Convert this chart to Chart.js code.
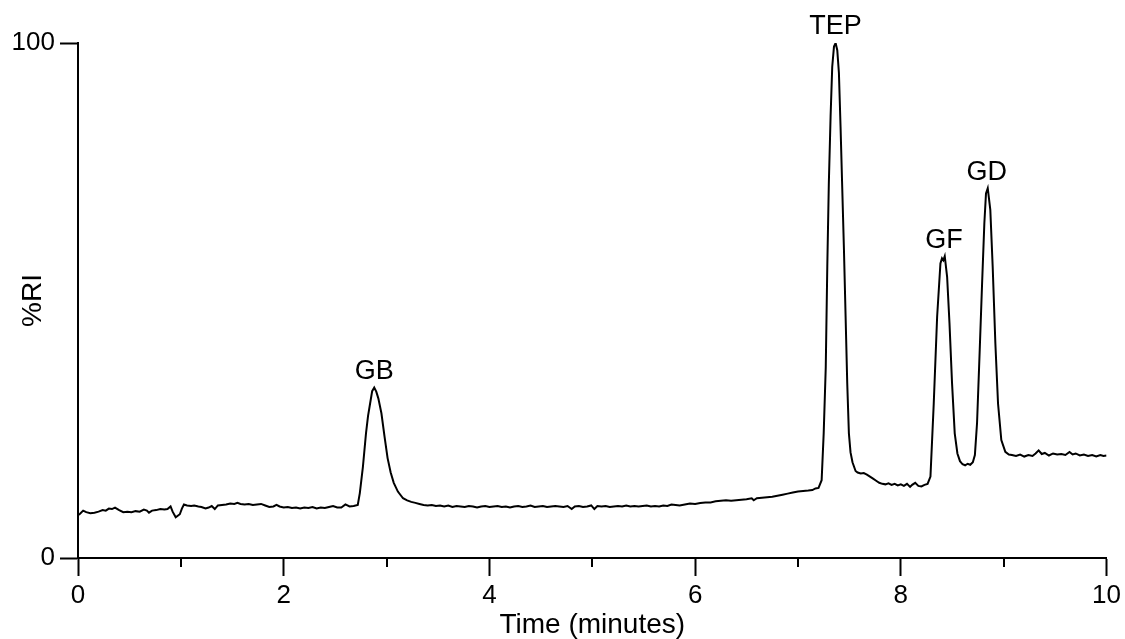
<!DOCTYPE html>
<html><head><meta charset="utf-8">
<script src="https://cdn.jsdelivr.net/npm/chart.js@4.4.0/dist/chart.umd.min.js"></script>
<style>html,body{margin:0;padding:0;background:#fff;overflow:hidden;}</style>
</head><body>
<canvas id="c" width="1125" height="639"></canvas>
<script>
// ---- data ----
const times = [
  0.00,0.02,0.05,0.08,0.12,0.16,0.20,0.24,0.27,0.30,0.33,0.36,0.40,0.44,0.48,0.52,0.56,0.60,0.64,0.67,
  0.69,0.72,0.76,0.80,0.84,0.87,0.90,0.92,0.95,0.97,0.99,1.01,1.03,1.06,1.10,1.13,1.17,1.20,1.24,1.27,
  1.30,1.33,1.36,1.40,1.44,1.48,1.52,1.55,1.58,1.62,1.66,1.70,1.74,1.78,1.82,1.86,1.90,1.93,1.96,2.00,
  2.04,2.08,2.12,2.16,2.20,2.24,2.28,2.32,2.36,2.40,2.44,2.48,2.52,2.56,2.60,2.64,2.68,2.72,
  2.74,2.77,2.80,2.82,2.84,2.86,2.88,2.90,2.92,2.95,2.98,3.01,3.04,3.07,3.11,3.16,3.20,3.24,3.28,3.32,
  3.36,3.40,3.44,3.48,3.52,3.56,3.60,3.64,3.68,3.72,3.76,3.80,3.84,3.88,3.92,3.96,4.00,4.04,4.08,4.12,
  4.16,4.20,4.24,4.28,4.32,4.36,4.40,4.44,4.48,4.52,4.56,4.60,4.64,4.68,4.72,4.76,4.80,4.83,4.87,4.91,
  4.95,4.99,5.02,5.05,5.09,5.13,5.17,5.21,5.25,5.29,5.33,5.37,5.41,5.45,5.49,5.53,5.57,5.61,5.65,5.69,
  5.73,5.77,5.81,5.85,5.90,5.95,6.00,6.05,6.10,6.15,6.20,6.25,6.30,6.35,6.40,6.45,6.50,6.55,6.57,6.60,
  6.65,6.70,6.75,6.80,6.85,6.90,6.95,7.00,7.05,7.10,7.14,7.17,7.20,
  7.23,7.25,7.27,7.285,7.30,7.317,7.333,7.35,7.366,7.382,7.398,7.414,7.43,7.447,7.463,7.479,7.495,7.511,7.53,7.56,
  7.58,7.61,7.64,7.67,7.70,7.73,7.76,7.79,7.82,7.85,7.88,7.91,7.94,7.97,8.00,8.03,8.06,8.09,8.11,8.14,8.17,8.20,8.23,8.26,
  8.288,8.32,8.353,8.385,8.40,8.413,8.427,8.45,8.473,8.498,8.524,8.55,8.575,8.60,8.625,8.65,8.675,8.70,8.72,8.741,
  8.767,8.79,8.812,8.828,8.845,8.87,8.893,8.919,8.945,8.977,9.016,9.05,9.08,
  9.12,9.16,9.20,9.24,9.28,9.31,9.34,9.37,9.40,9.44,9.48,9.52,9.56,9.60,9.64,9.67,9.70,9.74,9.78,9.82,
  9.86,9.90,9.94,9.97,10.00
];
const signal = [
  8.3,8.6,9.2,8.9,8.7,8.8,9.0,9.3,9.2,9.6,9.5,9.8,9.3,8.9,9.0,8.9,9.1,9.0,9.4,9.2,
  8.8,9.2,9.3,9.5,9.4,9.5,10.0,9.0,7.9,8.2,8.5,9.6,10.4,10.2,10.1,10.2,10.0,9.9,9.6,9.8,
  10.1,9.5,10.2,10.3,10.4,10.6,10.5,10.7,10.5,10.4,10.5,10.3,10.4,10.5,10.2,9.9,10.0,10.3,10.0,9.8,
  9.9,9.7,9.8,9.6,9.8,9.7,9.9,9.6,9.8,9.7,9.9,10.1,9.8,9.8,10.4,10.0,10.1,10.3,
  12.6,17.7,24.2,27.6,30.0,32.4,33.1,32.3,31.0,28.1,23.6,19.4,16.6,14.6,12.9,11.6,11.2,10.9,10.7,10.5,
  10.3,10.2,10.3,10.1,10.2,10.0,10.2,9.9,10.1,10.0,9.9,10.1,10.0,9.8,10.0,10.1,9.9,10.0,10.1,9.9,
  10.0,9.8,10.0,10.1,9.9,10.0,10.2,9.9,10.0,10.1,9.9,10.0,10.1,10.0,9.9,10.1,9.5,10.0,10.1,9.9,
  10.0,10.2,9.5,10.1,10.0,10.1,9.9,10.0,10.1,10.0,10.2,10.0,10.1,10.0,10.1,10.2,10.0,10.1,10.0,10.2,
  10.1,10.4,10.3,10.2,10.4,10.6,10.5,10.7,10.8,10.8,11.0,11.1,11.2,11.1,11.2,11.3,11.4,11.6,11.2,11.6,
  11.7,11.8,11.9,12.1,12.3,12.5,12.7,12.9,13.0,13.1,13.2,13.5,13.6,
  15.1,24.2,37.0,56.6,72.8,85.7,95.4,99.3,100,98.6,94.2,83.7,72.1,59.8,46.9,33.9,24.2,20.5,18.6,16.9,
  16.6,16.4,16.5,16.2,15.8,15.4,15.0,14.6,14.4,14.3,14.5,14.2,14.4,14.1,14.3,14.0,14.4,13.8,14.2,14.6,14.0,13.9,14.2,14.4,
  15.8,30.0,46.9,57.2,58.2,57.8,58.6,54.6,45.6,33.9,24.2,20.3,18.8,18.2,18.0,18.3,18.1,18.6,20.0,26.2,
  40.4,53.3,65.0,70.8,71.8,67.6,56.6,41.7,30.0,22.9,20.6,20.1,20.0,
  19.8,20.1,19.7,20.0,19.8,20.3,20.9,20.2,20.4,19.9,20.3,20.1,20.2,20.0,20.6,20.1,20.3,19.9,20.1,19.8,
  20.0,19.7,20.0,19.8,19.9
];
const xMajorTicks = [0, 2, 4, 6, 8, 10];
const xMinorTicks = [1, 3, 5, 7, 9];
const yTicks = [0, 100];
const peakNames = ['GB', 'TEP', 'GF', 'GD'];
const peakTimes = [2.88, 7.366, 8.42, 8.835];
const peakValues = [33.1, 100, 58.6, 71.8];
const xTitle = 'Time (minutes)';
const yTitle = '%RI';

// ---- drawing ----
const FONT = "'Liberation Sans', Arial, Helvetica, sans-serif";

const minorTicks = {
  id: 'minorTicks',
  afterDraw(chart) {
    const xs = chart.scales.x, ctx = chart.ctx;
    ctx.save();
    ctx.strokeStyle = '#000';
    ctx.lineWidth = 2;
    xMinorTicks.forEach(v => {
      const px = Math.round(xs.getPixelForValue(v));
      ctx.beginPath();
      ctx.moveTo(px, xs.top);
      ctx.lineTo(px, xs.top + 9);
      ctx.stroke();
    });
    ctx.restore();
  }
};

const peakLabels = {
  id: 'peakLabels',
  afterDatasetsDraw(chart) {
    const xs = chart.scales.x, ys = chart.scales.y, ctx = chart.ctx;
    ctx.save();
    ctx.fillStyle = '#000';
    ctx.font = '27px ' + FONT;
    ctx.textAlign = 'center';
    ctx.textBaseline = 'middle';
    peakNames.forEach((name, i) => {
      ctx.fillText(name, xs.getPixelForValue(peakTimes[i]), ys.getPixelForValue(peakValues[i]) - 16);
    });
    ctx.restore();
  }
};

new Chart(document.getElementById('c'), {
  type: 'line',
  data: {
    datasets: [{
      data: times.map((t, i) => ({ x: t, y: signal[i] })),
      borderColor: '#000',
      borderWidth: 2,
      pointRadius: 0,
      tension: 0,
      fill: false
    }]
  },
  options: {
    responsive: false,
    animation: false,
    layout: { padding: { top: 43, right: 17, left: 0, bottom: 0 } },
    plugins: { legend: { display: false }, tooltip: { enabled: false } },
    scales: {
      x: {
        type: 'linear', min: 0, max: 10,
        afterBuildTicks: s => { s.ticks = xMajorTicks.map(v => ({ value: v })); },
        afterFit: s => { s.height = 81; },
        grid: { drawOnChartArea: false, drawTicks: true, tickLength: 18, tickWidth: 2, tickColor: '#000' },
        border: { display: true, color: '#000', width: 2 },
        ticks: { color: '#000', font: { family: FONT, size: 26 }, padding: 4, maxRotation: 0, autoSkip: false },
        title: { display: true, text: xTitle, color: '#000', font: { family: FONT, size: 28, lineHeight: 1 }, padding: { top: 0, bottom: 0 } }
      },
      y: {
        type: 'linear', min: 0, max: 100,
        afterBuildTicks: s => { s.ticks = yTicks.map(v => ({ value: v })); },
        afterFit: s => { s.width = 78; },
        grid: { drawOnChartArea: false, drawTicks: true, tickLength: 18, tickWidth: 2, tickColor: '#000' },
        border: { display: true, color: '#000', width: 2 },
        ticks: { color: '#000', font: { family: FONT, size: 26 }, padding: 5, autoSkip: false },
        title: { display: true, text: yTitle, color: '#000', font: { family: FONT, size: 28, lineHeight: 1 }, padding: { top: 19, bottom: 0 } }
      }
    }
  },
  plugins: [minorTicks, peakLabels]
});
</script>
</body></html>
